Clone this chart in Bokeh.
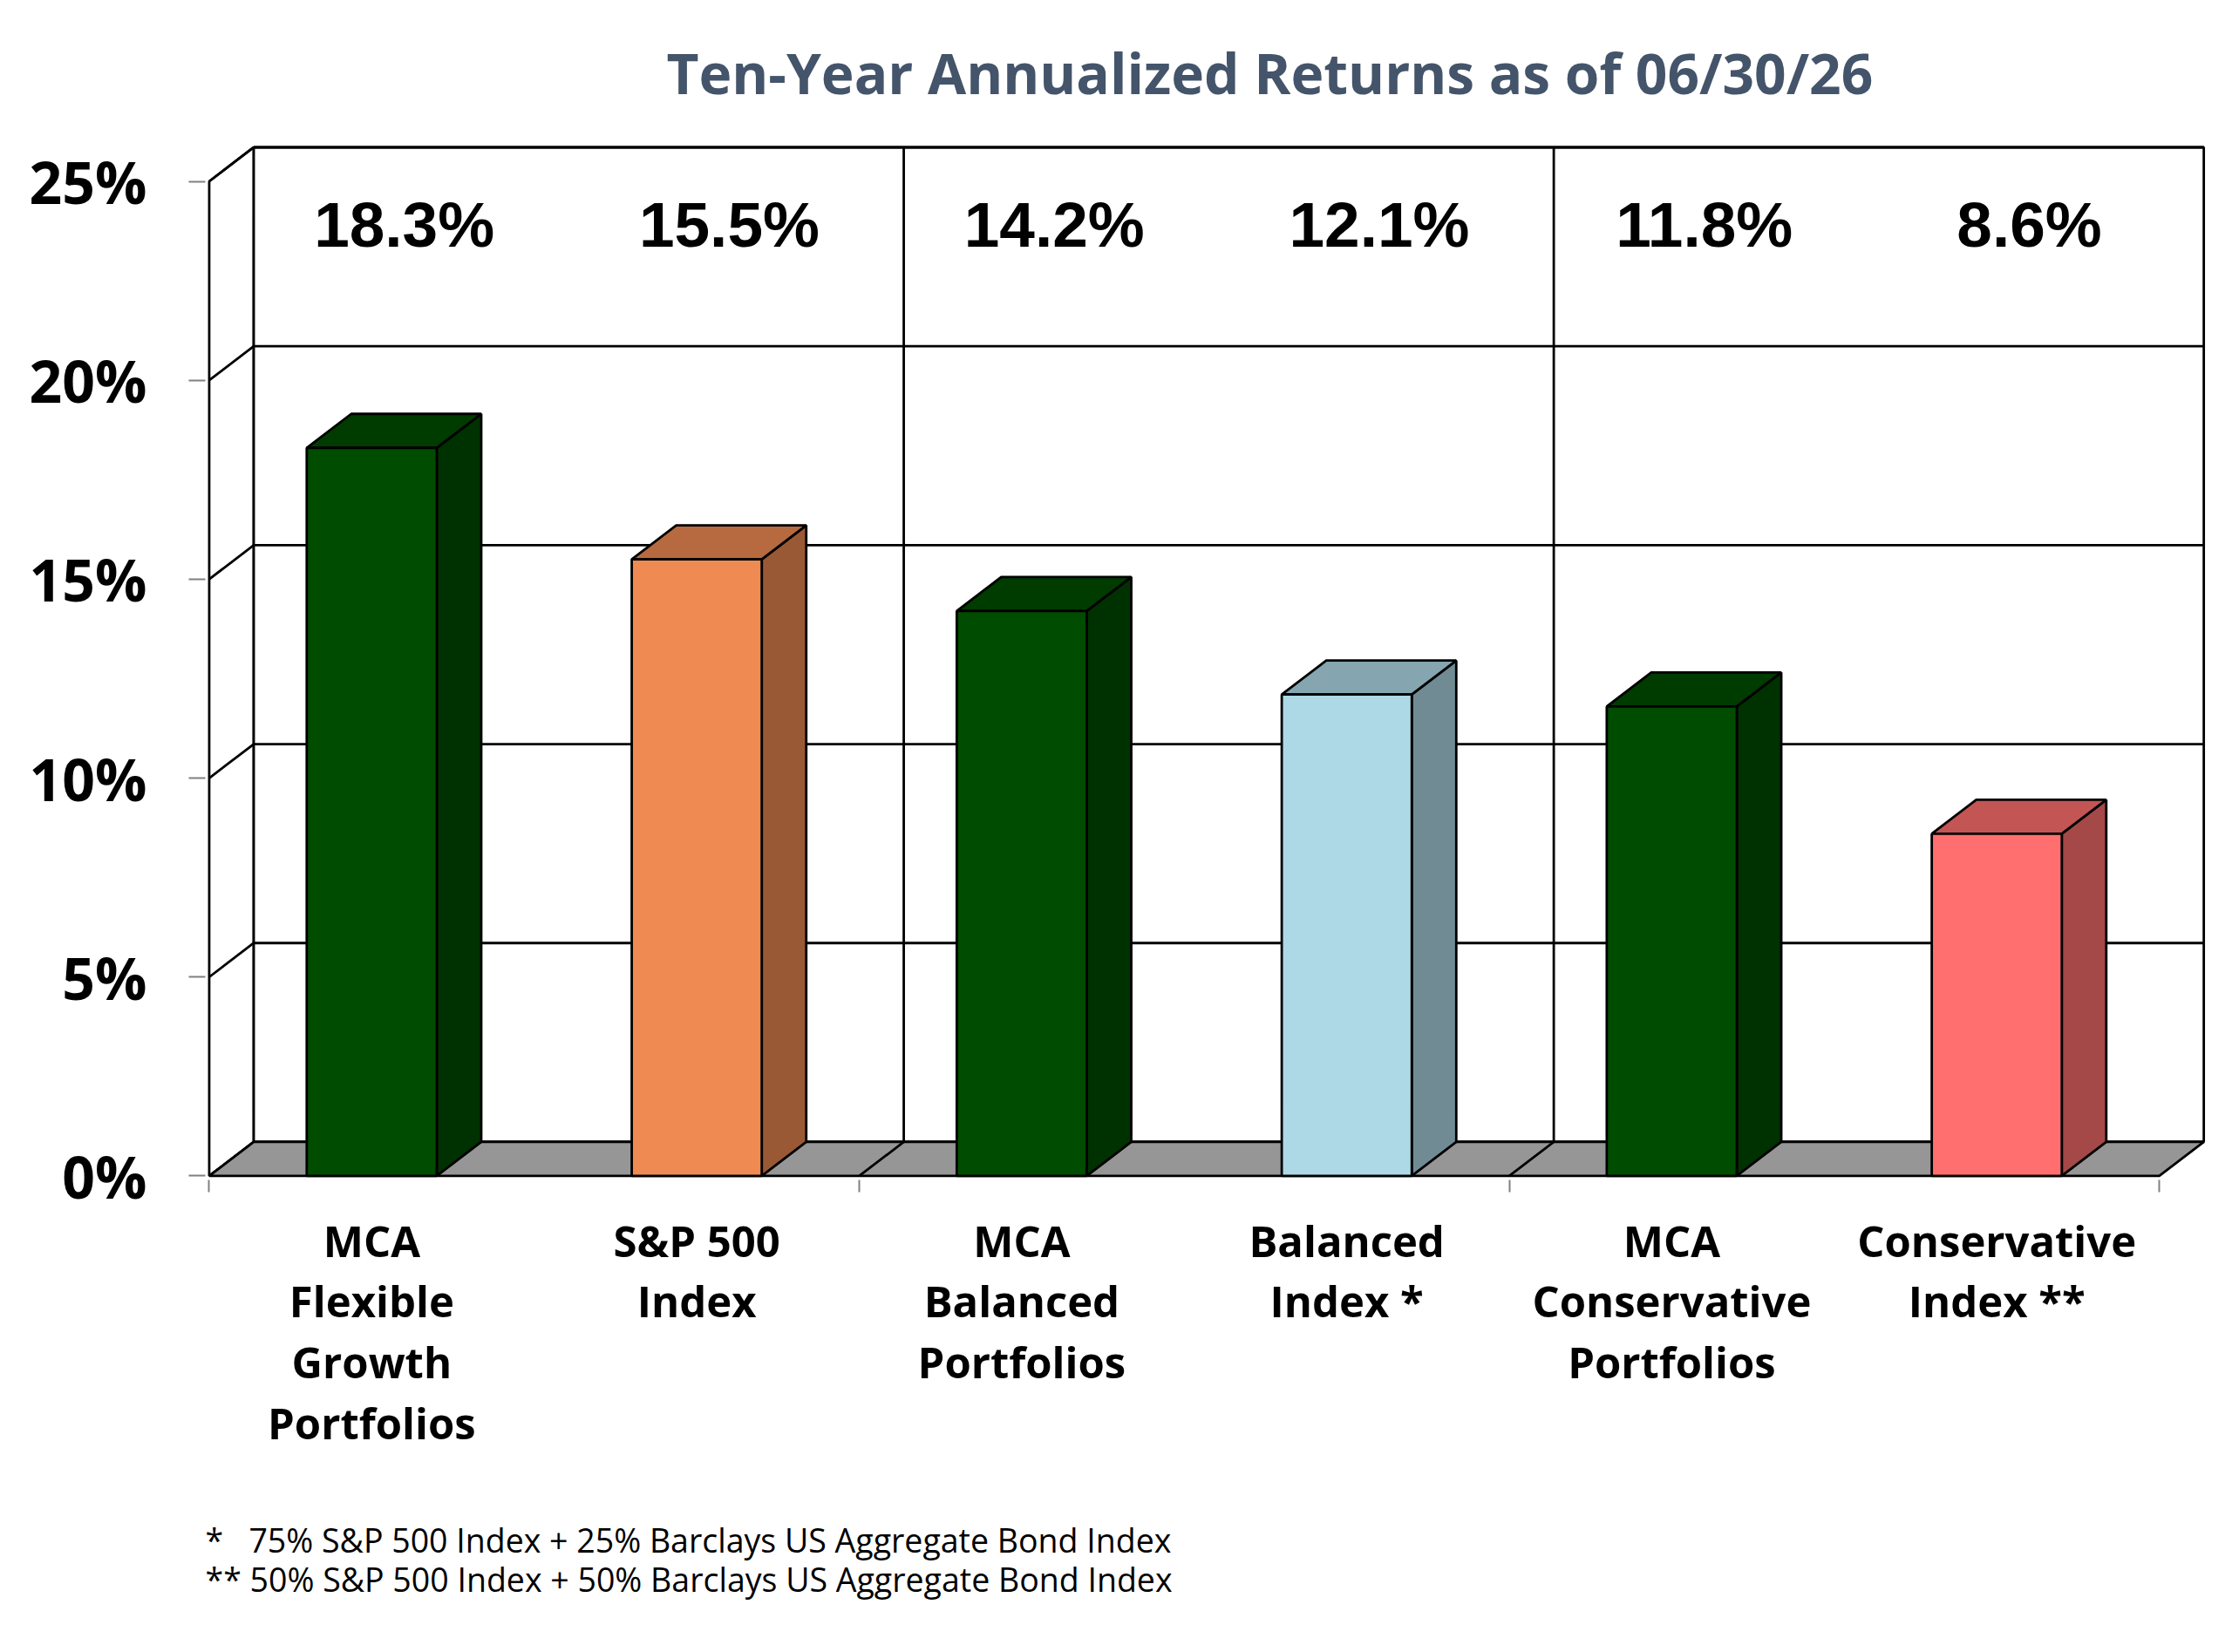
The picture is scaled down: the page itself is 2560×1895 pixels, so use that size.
from bokeh.plotting import figure
from bokeh.models import FixedTicker, Range1d, ColumnDataSource, Title
from bokeh.core.properties import value
from bokeh.embed import file_html
from bokeh.resources import INLINE

# ---------------- data ----------------
categories = [
    "MCA\nFlexible\nGrowth\nPortfolios",
    "S&P 500\nIndex",
    "MCA\nBalanced\nPortfolios",
    "Balanced\nIndex *",
    "MCA\nConservative\nPortfolios",
    "Conservative\nIndex **",
]
returns = [18.3, 15.5, 14.2, 12.1, 11.8, 8.6]
value_labels = ["18.3%", "15.5%", "14.2%", "12.1%", "11.8%", "8.6%"]
y_ticks = [0, 5, 10, 15, 20, 25]
y_tick_labels = ["0%", "5%", "10%", "15%", "20%", "25%"]
title_text = "Ten-Year Annualized Returns as of 06/30/26"
footnotes = [
    "*\u00a0\u00a0\u00a075% S&P 500 Index + 25% Barclays US Aggregate Bond Index",
    "** 50% S&P 500 Index + 50% Barclays US Aggregate Bond Index",
]

# ---------------- style ----------------
bar_colors = ["#004C00", "#EE8A52", "#004C00", "#ADD8E6", "#004C00", "#FF6F6F"]
GROUP = 2              # categories per panel of the back wall
DX, DY = 0.137, 0.855  # 3-D depth (x in category units, y in percent)
BAR_W = 0.4
LW = 2.8
FLOOR = "#969696"
TICK_GRAY = "#808080"


def shade(hexcol, f):
    h = hexcol.lstrip("#")
    r, g, b = (int(h[i:i + 2], 16) for i in (0, 2, 4))
    return "#%02X%02X%02X" % (round(r * f), round(g * f), round(b * f))


n = len(categories)
ymax = y_ticks[-1]
centers = [i + 0.5 for i in range(n)]
bounds = list(range(0, n + 1, GROUP))

p = figure(
    width=2544, height=1879,
    x_range=Range1d(-0.012, n + DX + 0.013),
    y_range=Range1d(-0.1, 29.24),
    output_backend="svg", toolbar_location=None,
    min_border_left=235, min_border_right=12,
    min_border_top=14, min_border_bottom=526,
)
p.outline_line_color = None
p.xgrid.visible = False
p.ygrid.visible = False
p.background_fill_color = "white"
p.border_fill_color = "white"

# left wall
p.patch([0, 0, DX, DX], [0, ymax, ymax + DY, DY],
        fill_color="white", line_color="black", line_width=LW)
p.multi_line([[0, DX] for _ in y_ticks], [[t, t + DY] for t in y_ticks],
             line_color="black", line_width=LW)

# back wall
p.quad(left=DX, right=n + DX, bottom=DY, top=ymax + DY,
       fill_color="white", line_color="black", line_width=LW)
p.multi_line([[DX, n + DX] for _ in y_ticks], [[t + DY, t + DY] for t in y_ticks],
             line_color="black", line_width=LW)
inner = bounds[1:-1]
p.multi_line([[b + DX, b + DX] for b in inner], [[DY, ymax + DY] for _ in inner],
             line_color="black", line_width=LW)

# floor
p.patch([0, n, n + DX, DX], [0, 0, DY, DY],
        fill_color=FLOOR, line_color="black", line_width=LW)
p.multi_line([[b, b + DX] for b in inner], [[0, DY] for _ in inner],
             line_color="black", line_width=LW)

# bars
lefts = [c - BAR_W / 2 for c in centers]
rights = [c + BAR_W / 2 for c in centers]
side_src = ColumnDataSource(dict(
    xs=[[r, r, r + DX, r + DX] for r in rights],
    ys=[[0, v, v + DY, DY] for v in returns],
    c=[shade(c, 0.645) for c in bar_colors],
))
top_src = ColumnDataSource(dict(
    xs=[[l, r, r + DX, l + DX] for l, r in zip(lefts, rights)],
    ys=[[v, v, v + DY, v + DY] for v in returns],
    c=[shade(c, 0.77) for c in bar_colors],
))
front_src = ColumnDataSource(dict(l=lefts, r=rights, t=returns, c=bar_colors))
p.patches("xs", "ys", source=side_src, fill_color="c", line_color="black", line_width=LW)
p.patches("xs", "ys", source=top_src, fill_color="c", line_color="black", line_width=LW)
p.quad(left="l", right="r", bottom=0, top="t", source=front_src,
       fill_color="c", line_color="black", line_width=LW)

# value labels in the top panel
lab_src = ColumnDataSource(dict(x=[c + 0.1 for c in centers], y=[23.92] * n, t=value_labels))
p.text("x", "y", text="t", source=lab_src, text_align="center", text_baseline="middle",
       text_font=value("Liberation Sans"), text_font_style="bold",
       text_font_size="73px", text_color="black")

# chart title (drawn in the space above the back wall)
p.text(x=[3.263], y=[27.72], text=[title_text], text_align="center",
       text_baseline="alphabetic", text_font=value("Open Sans"),
       text_font_style="bold", text_font_size="64px", text_color="#44546A")

# y axis
ya = p.yaxis[0]
ya.ticker = FixedTicker(ticks=y_ticks)
ya.major_label_overrides = {t: s for t, s in zip(y_ticks, y_tick_labels)}
ya.major_label_text_font = "Open Sans"
ya.major_label_text_font_style = "bold"
ya.major_label_text_font_size = "66px"
ya.major_label_text_color = "black"
ya.axis_line_color = None
ya.major_tick_line_color = TICK_GRAY
ya.major_tick_line_width = 2
ya.major_tick_out = 19
ya.major_tick_in = 0
ya.minor_tick_out = 0
ya.minor_tick_in = 0
ya.major_label_standoff = 48

# x axis
xa = p.xaxis[0]
xa.ticker = FixedTicker(ticks=centers, minor_ticks=bounds)
xa.major_label_overrides = {c: s for c, s in zip(centers, categories)}
xa.major_label_text_font = "Open Sans"
xa.major_label_text_font_style = "bold"
xa.major_label_text_font_size = "49px"
xa.major_label_text_line_height = 1.06
xa.major_label_text_color = "black"
xa.axis_line_color = None
xa.major_tick_out = 0
xa.major_tick_in = 0
xa.minor_tick_out = 14
xa.minor_tick_in = 0
xa.minor_tick_line_color = TICK_GRAY
xa.minor_tick_line_width = 2
xa.major_label_standoff = 22

# footnotes below the axis (a blank first line keeps the panel compact)
p.add_layout(Title(text="\n".join(["\u00a0"] + footnotes), align="left", offset=0,
                   vertical_align="top", standoff=57,
                   text_font="Open Sans", text_font_style="normal",
                   text_font_size="37.5px", text_line_height=0.87,
                   text_color="black"), "below")

open("out.html", "w").write(file_html(p, INLINE))
